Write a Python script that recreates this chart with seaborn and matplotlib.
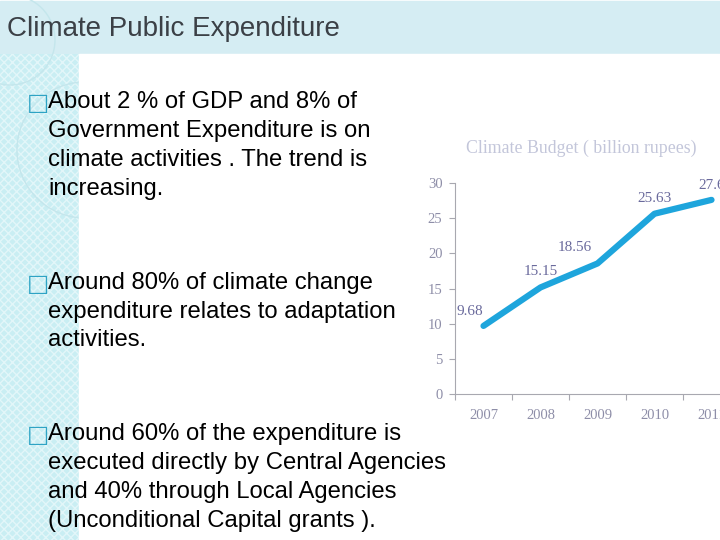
import pandas as pd
import matplotlib.pyplot as plt
import matplotlib.patches as mpatches
import seaborn as sns

# Datos del gráfico
years = ["2007", "2008", "2009", "2010", "2011"]
budget = [9.68, 15.15, 18.56, 25.63, 27.6]
value_labels = ["9.68", "15.15", "18.56", "25.63", "27.6"]
y_ticks = [0, 5, 10, 15, 20, 25, 30]

slide_title = "Climate Public Expenditure"
chart_title = "Climate Budget ( billion rupees)"
bullets = [
    ["About 2 % of GDP and 8% of", "Government Expenditure is on",
     "climate activities . The trend is", "increasing."],
    ["Around 80% of climate change", "expenditure relates to adaptation",
     "activities."],
    ["Around 60% of the expenditure is", "executed directly by Central Agencies",
     "and 40% through Local Agencies", "(Unconditional Capital grants )."],
]

sns.set_style("white")
plt.rcParams['font.family'] = ['Liberation Sans', 'DejaVu Sans']

fig = plt.figure(figsize=(7.2, 5.4), dpi=100)
W, H = 720, 540

# Fondo de la diapositiva
bg = fig.add_axes([0, 0, 1, 1])
bg.set_xlim(0, W)
bg.set_ylim(H, 0)
bg.axis('off')
bg.add_patch(mpatches.Rectangle((0, 1), W, 53, color='#d5edf3', zorder=0))
bg.add_patch(mpatches.Rectangle((0, 54), 79, H - 54, facecolor='#c9eef3',
                                edgecolor='#e2f6f9', hatch='xxxx', lw=0, zorder=0))
for cx, cy, r in [(85, 150, 68), (10, 40, 45)]:
    bg.add_patch(mpatches.Circle((cx, cy), r, fill=False, ec='#c4e6ec', lw=1.0, zorder=1))
bg.add_patch(mpatches.Rectangle((79, 54), W - 79, H - 54, color='white', zorder=1))

bg.text(7, 29, slide_title, fontsize=20, color='#3b4046', va='center', ha='left', zorder=3)

line_y = [[102, 131, 160, 189], [283, 312, 340], [434, 463, 492, 521]]
for lines, ys in zip(bullets, line_y):
    bg.text(27, ys[0] + 1, "\u25a1", fontsize=17, color='#2ea3c4', va='center', ha='left',
            family=['DejaVu Sans'], zorder=3)
    for txt, y in zip(lines, ys):
        bg.text(48, y, txt, fontsize=17.2, color='black', va='center', ha='left', zorder=3)

# Gráfico de línea
df = pd.DataFrame({'Año': years, 'Presupuesto': budget})
ax = fig.add_axes([455 / W, (H - 394) / H, 285 / W, 211 / H])
ax.set_facecolor('none')
sns.lineplot(data=df, x='Año', y='Presupuesto', color='#1ea5dc', lw=4.5,
             solid_capstyle='round', ax=ax)
ax.set_xlim(-0.5, len(years) - 0.5)
ax.set_ylim(0, 30)
ax.set_yticks(y_ticks)
ax.set_xlabel('')
ax.set_ylabel('')
for s in ['top', 'right']:
    ax.spines[s].set_visible(False)
for s in ['left', 'bottom']:
    ax.spines[s].set_color('#a8a8b0')
    ax.spines[s].set_linewidth(0.8)
ax.set_xticks([i - 0.5 for i in range(len(years) + 1)], minor=False)
ax.set_xticklabels([])
ax.set_xticks(range(len(years)), minor=True)
ax.set_xticklabels(years, minor=True)
ax.tick_params(axis='x', which='major', length=4, color='#a8a8b0', direction='out', bottom=True)
ax.tick_params(axis='x', which='minor', length=0, pad=11, labelsize=10.5, labelcolor='#8e8ea8')
ax.tick_params(axis='y', length=4, color='#a8a8b0', direction='out', left=True,
               labelsize=10.5, labelcolor='#8e8ea8', pad=5)
for lab in ax.get_xticklabels(minor=True) + ax.get_yticklabels():
    lab.set_family('Liberation Serif')

offsets = [(-10, 6), (0, 7), (-16, 7), (0, 6), (0, 6)]
for i, (v, lab) in enumerate(zip(budget, value_labels)):
    ax.annotate(lab, (i, v), xytext=offsets[i], textcoords='offset points',
                ha='center', va='bottom', fontsize=11, color='#6a6a9c',
                family='Liberation Serif', annotation_clip=False)

fig.text(581 / W, 1 - 148 / H, chart_title, fontsize=12.8, color='#c3c6da',
         family='Liberation Serif', ha='center', va='center')

fig.savefig('out.png', dpi=100)
